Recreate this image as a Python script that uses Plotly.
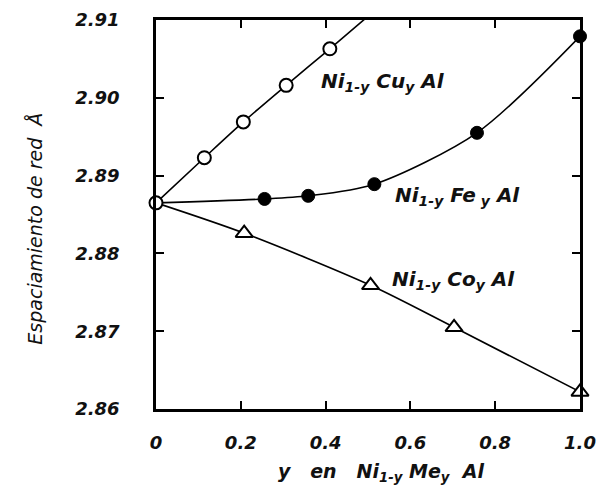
import plotly.graph_objects as go

# Data
y0_x = [0.0]
y0_y = [2.8865]

cu_x = [0.114, 0.206, 0.307, 0.410]
cu_y = [2.8923, 2.8969, 2.9016, 2.9063]
cu_fit_x = [0.0, 0.114, 0.206, 0.307, 0.410, 0.494]
cu_fit_y = [2.8865, 2.8923, 2.8969, 2.9016, 2.9063, 2.9102]

fe_x = [0.256, 0.359, 0.515, 0.757, 1.0]
fe_y = [2.8870, 2.8874, 2.8889, 2.8955, 2.9079]
fe_fit_x = [0.0, 0.256, 0.359, 0.515, 0.757, 1.0]
fe_fit_y = [2.8865, 2.8870, 2.8874, 2.8889, 2.8955, 2.9079]

co_x = [0.208, 0.506, 0.703, 1.0]
co_y = [2.8826, 2.8759, 2.8705, 2.8622]
co_fit_x = [0.0, 0.208, 0.506, 0.703, 1.0]
co_fit_y = [2.8865, 2.8826, 2.8759, 2.8705, 2.8622]

x_ticks = [0, 0.2, 0.4, 0.6, 0.8, 1.0]
x_ticktext = ["0", "0.2", "0.4", "0.6", "0.8", "1.0"]
y_ticks = [2.86, 2.87, 2.88, 2.89, 2.90, 2.91]
y_ticktext = ["2.86", "2.87", "2.88", "2.89", "2.90", "2.91"]

FONT = "DejaVu Sans"
line_style = dict(color="black", width=1.6, shape="spline", smoothing=0.8)

fig = go.Figure()
for fx, fy in [(cu_fit_x, cu_fit_y), (fe_fit_x, fe_fit_y), (co_fit_x, co_fit_y)]:
    fig.add_trace(go.Scatter(x=fx, y=fy, mode="lines", line=line_style,
                             hoverinfo="skip", showlegend=False))

fig.add_trace(go.Scatter(x=cu_x + y0_x, y=cu_y + y0_y, mode="markers",
                         marker=dict(symbol="circle", size=13, color="white",
                                     line=dict(color="black", width=2)),
                         showlegend=False, cliponaxis=False))
fig.add_trace(go.Scatter(x=fe_x, y=fe_y, mode="markers",
                         marker=dict(symbol="circle", size=13, color="black",
                                     line=dict(color="black", width=1)),
                         showlegend=False, cliponaxis=False))
fig.add_trace(go.Scatter(x=co_x, y=co_y, mode="markers",
                         marker=dict(symbol="triangle-up", size=15, color="white",
                                     line=dict(color="black", width=2)),
                         showlegend=False, cliponaxis=False))

tickfont = dict(family=FONT, size=18, color="#111", style="italic", weight="bold")

fig.update_xaxes(range=[0, 1.0], tickvals=x_ticks, ticktext=x_ticktext,
                 ticks="inside", ticklen=8, tickwidth=2, tickcolor="black",
                 showline=True, linewidth=2.5, linecolor="black", mirror="ticks",
                 showgrid=False, zeroline=False, tickfont=tickfont,
                 ticklabelstandoff=16, ticklabeloverflow="allow")
fig.update_yaxes(range=[2.86, 2.91], tickvals=y_ticks, ticktext=y_ticktext,
                 ticks="inside", ticklen=8, tickwidth=2, tickcolor="black",
                 showline=True, linewidth=2.5, linecolor="black", mirror="ticks",
                 showgrid=False, zeroline=False, tickfont=tickfont,
                 ticklabelstandoff=30, ticklabeloverflow="allow")

labfont = dict(family=FONT, size=20, color="#111", style="italic", weight="bold")
annotations = [
    dict(x=0.385, y=2.9020, text="Ni<sub>1-y</sub> Cu<sub>y</sub> Al"),
    dict(x=0.558, y=2.8874, text="Ni<sub>1-y</sub> Fe<sub> y</sub> Al"),
    dict(x=0.553, y=2.8766, text="Ni<sub>1-y</sub> Co<sub>y</sub> Al"),
]
for a in annotations:
    fig.add_annotation(x=a["x"], y=a["y"], text=a["text"], showarrow=False,
                       xanchor="left", yanchor="middle", font=labfont)

fig.add_annotation(xref="paper", yref="paper", x=0.284, y=-0.1625,
                   text="y\u00a0\u00a0\u00a0en\u00a0\u00a0\u00a0Ni<sub>1-y</sub> Me<sub>y</sub>\u00a0\u00a0Al",
                   showarrow=False, xanchor="left", yanchor="middle",
                   font=dict(family=FONT, size=19, color="#111", style="italic", weight="bold"))
fig.add_annotation(xref="paper", yref="paper", x=-0.284, y=0.4625,
                   text="Espaciamiento de red\u00a0\u00a0Å", textangle=-90,
                   showarrow=False, xanchor="center", yanchor="middle",
                   font=dict(family=FONT, size=19, color="#111", style="italic"))

fig.update_layout(width=605, height=492, plot_bgcolor="white", paper_bgcolor="white",
                  margin=dict(l=156, r=12, t=9, b=83), showlegend=False)

fig.write_html("out.html")
